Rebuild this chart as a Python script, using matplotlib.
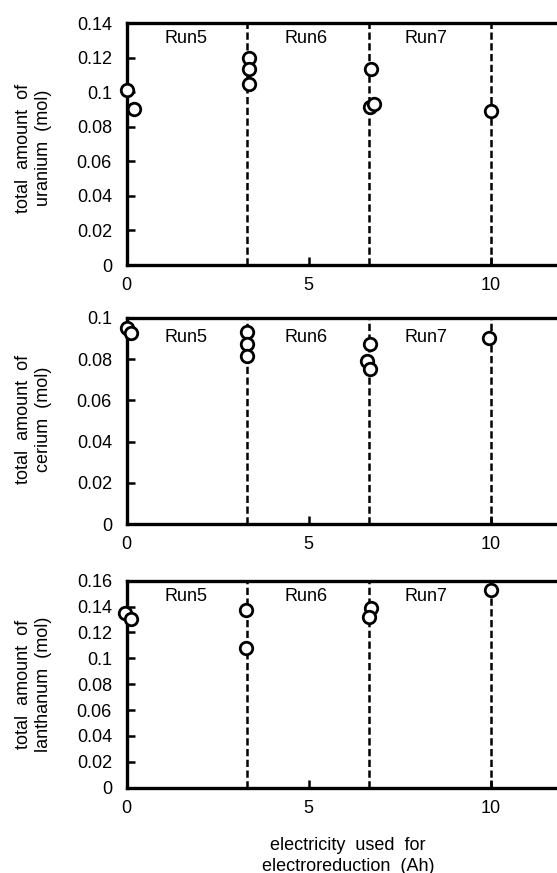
import matplotlib
matplotlib.use("Agg")
import matplotlib.pyplot as plt

plt.rcParams['font.family'] = ['Liberation Sans', 'DejaVu Sans']

run_boundaries = [3.3, 6.65, 10.0]
run_labels = ["Run5", "Run6", "Run7"]
run_label_x = [1.64, 4.92, 8.24]

u_x = [0.0, 0.2, 3.37, 3.37, 3.37, 6.73, 6.68, 6.8, 10.02]
u_y = [0.101, 0.0905, 0.120, 0.1135, 0.1045, 0.1135, 0.0915, 0.093, 0.089]

ce_x = [0.0, 0.13, 3.3, 3.3, 3.3, 6.68, 6.6, 6.7, 9.95]
ce_y = [0.0952, 0.0924, 0.0929, 0.0871, 0.0816, 0.0871, 0.0792, 0.0752, 0.090]

la_x = [-0.03, 0.13, 3.29, 3.29, 6.72, 6.66, 10.02]
la_y = [0.1353, 0.1304, 0.1373, 0.1082, 0.1386, 0.1322, 0.1528]

panels = [
    dict(x=u_x, y=u_y, ymax=0.14, yticks=[0, 0.02, 0.04, 0.06, 0.08, 0.1, 0.12, 0.14],
         ylabel="total  amount  of\nuranium  (mol)", label_y=0.131,
         bottom=0.6964, height=0.2772, lab_dy=-4),
    dict(x=ce_x, y=ce_y, ymax=0.1, yticks=[0, 0.02, 0.04, 0.06, 0.08, 0.1],
         ylabel="total  amount  of\ncerium  (mol)", label_y=0.0905,
         bottom=0.3994, height=0.2367, lab_dy=2),
    dict(x=la_x, y=la_y, ymax=0.16, yticks=[0, 0.02, 0.04, 0.06, 0.08, 0.1, 0.12, 0.14, 0.16],
         ylabel="total  amount  of\nlanthanum  (mol)", label_y=0.1476,
         bottom=0.0977, height=0.2371, lab_dy=0),
]

W, H = 557, 873
fig = plt.figure(figsize=(W / 100, H / 100), dpi=100)

FS = 13
LEFT = 126.5 / W
XMAX = (W - 126.5) / 36.4

def fmt(v):
    if v == 0:
        return "0"
    return ("%.2f" % v).rstrip("0")

for p in panels:
    ax = fig.add_axes([LEFT, p["bottom"], 1 - LEFT, p["height"]])
    ax.set_xlim(0, XMAX)
    ax.set_ylim(0, p["ymax"])
    for xb in run_boundaries:
        ax.axvline(xb, color="black", lw=1.8, ls=(0, (2.9, 1.4)), zorder=1)
    ax.plot(p["x"], p["y"], ls="none", marker="o", ms=9.0, mfc="white",
            mec="black", mew=2.0, zorder=3, clip_on=False)
    for lx, lt in zip(run_label_x, run_labels):
        ax.text(lx, p["label_y"], lt, ha="center", va="center", fontsize=FS)
    ax.set_yticks(p["yticks"])
    ax.set_yticklabels([fmt(v) for v in p["yticks"]])
    ax.set_xticks([0, 5, 10])
    ax.set_xticklabels(["0", "5", "10"])
    ax.tick_params(direction="in", length=6, width=1.8, labelsize=FS, pad=8.5)
    ax.tick_params(axis="y", pad=10.5)
    ax.spines["right"].set_visible(False)
    for s in ["left", "bottom", "top"]:
        ax.spines[s].set_linewidth(2.4)
    ycen = p["bottom"] + p["height"] / 2 + p["lab_dy"] / H
    fig.text(33.5 / W, ycen, p["ylabel"], rotation=90, ha="center", va="center",
             fontsize=FS, linespacing=1.28)

fig.text(348 / W, 1 - 856 / H, "electricity  used  for\nelectroreduction  (Ah)",
         ha="center", va="center", fontsize=FS, linespacing=1.25)

fig.savefig("out.png", dpi=100)
